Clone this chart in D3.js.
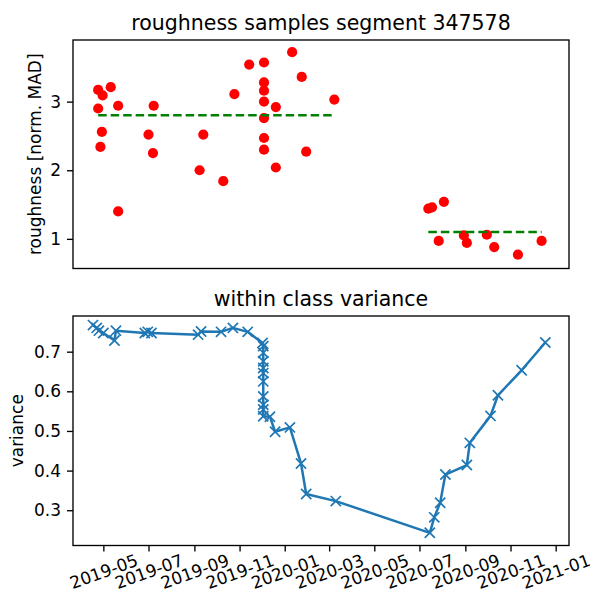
<!DOCTYPE html>
<html>
<head>
<meta charset="utf-8">
<script src="https://cdn.jsdelivr.net/npm/d3@7"></script>
<style>
  body { margin: 0; background: #fff; }
  svg { display: block; font-family: "DejaVu Sans", sans-serif; }
</style>
</head>
<body>
<svg id="chart" width="590" height="593"></svg>
<script>
// ---- data ----
const sampleDates = [
  "2019-04-24", "2019-05-11", "2019-04-30", "2019-05-21", "2019-04-24", "2019-04-29",
  "2019-04-27", "2019-05-21", "2019-07-08", "2019-07-01", "2019-07-07", "2019-09-13",
  "2019-09-08", "2019-10-10", "2019-10-25", "2019-11-14", "2019-12-04", "2019-12-04",
  "2019-12-04", "2019-12-04", "2019-12-04", "2019-12-04", "2019-12-04", "2019-12-20",
  "2019-12-20", "2020-01-11", "2020-01-24", "2020-01-30", "2020-03-08",
  "2020-07-13", "2020-07-18", "2020-08-03", "2020-07-27", "2020-08-30", "2020-09-03",
  "2020-09-30", "2020-10-10", "2020-11-11", "2020-12-13"
];
const roughness = [
  3.17, 3.21, 3.09, 2.94, 2.90, 2.56, 2.34, 1.40, 2.94, 2.52, 2.25, 2.52,
  2.00, 1.84, 3.11, 3.54, 3.57, 3.28, 3.16, 3.00, 2.76, 2.47, 2.30, 2.92,
  2.04, 3.72, 3.36, 2.27, 3.03,
  1.44, 1.46, 1.54, 0.97, 1.05, 0.94, 1.06, 0.88, 0.77, 0.97
];
const sampleClass = [
  0, 0, 0, 0, 0, 0, 0, 0, 0, 0, 0, 0, 0, 0, 0, 0, 0, 0, 0, 0, 0, 0, 0, 0, 0, 0, 0, 0, 0,
  1, 1, 1, 1, 1, 1, 1, 1, 1, 1
];
const classLevel = [2.80, 1.10];

const splitDates = [
  "2019-04-17", "2019-04-22", "2019-04-25", "2019-05-01", "2019-05-16", "2019-05-18",
  "2019-06-26", "2019-06-30", "2019-07-05", "2019-09-06", "2019-09-10", "2019-10-07",
  "2019-10-23", "2019-11-12", "2019-12-02", "2019-12-03", "2019-12-03", "2019-12-03",
  "2019-12-03", "2019-12-03", "2019-12-03", "2019-12-03", "2019-12-03", "2019-12-03",
  "2019-12-03", "2019-12-12", "2019-12-19", "2020-01-08", "2020-01-23", "2020-01-30",
  "2020-03-10", "2020-07-15", "2020-07-21", "2020-07-29", "2020-08-05", "2020-09-03",
  "2020-09-07", "2020-10-05", "2020-10-15", "2020-11-16", "2020-12-18"
];
const variance = [
  0.767, 0.760, 0.753, 0.747, 0.728, 0.753,
  0.747, 0.750, 0.747, 0.743, 0.751, 0.750,
  0.760, 0.750, 0.722, 0.714, 0.697, 0.676,
  0.659, 0.646, 0.625, 0.587, 0.566, 0.554,
  0.537, 0.536, 0.498, 0.509, 0.418, 0.341,
  0.323, 0.243, 0.282, 0.319, 0.390, 0.414,
  0.470, 0.538, 0.590, 0.653, 0.723
];

const xDomain = ["2019-03-21", "2021-01-19"];
const roughTicks = [1, 2, 3];
const varTicks = [0.3, 0.4, 0.5, 0.6, 0.7];

// ---- layout ----
const parse = d3.utcParse("%Y-%m-%d");
const left = 73, right = 569;
const top1 = 40, bot1 = 268.5;
const top2 = 316, bot2 = 545.5;
const tickFont = 17, titleFont = 20.5;
const spineW = 1.35, tickLen = 6;

const svg = d3.select("#chart");

const x = d3.scaleUtc().domain(xDomain.map(parse)).range([left, right]);
const yR = d3.scaleLinear().domain([0.568, 3.898]).range([bot1, top1]);
const yV = d3.scaleLinear().domain([0.211, 0.790]).range([bot2, top2]);

function frame(y0, y1) {
  svg.append("rect")
    .attr("x", left).attr("y", y0)
    .attr("width", right - left).attr("height", y1 - y0)
    .attr("fill", "none").attr("stroke", "#000").attr("stroke-width", spineW);
}

function yAxis(scale, ticks, fmt) {
  const g = svg.append("g")
    .attr("transform", `translate(${left},0)`)
    .call(d3.axisLeft(scale).tickValues(ticks).tickFormat(fmt).tickSize(tickLen).tickPadding(6));
  g.select(".domain").remove();
  g.selectAll("line").attr("stroke", "#000").attr("stroke-width", spineW);
  g.selectAll("text").attr("font-size", tickFont).attr("fill", "#000")
    .attr("font-family", "DejaVu Sans");
}

function title(txt, y) {
  svg.append("text")
    .attr("x", (left + right) / 2).attr("y", y)
    .attr("text-anchor", "middle")
    .attr("font-size", titleFont).attr("fill", "#000")
    .text(txt);
}

function yLabel(txt, xPos, y0, y1) {
  svg.append("text")
    .attr("transform", `translate(${xPos},${(y0 + y1) / 2}) rotate(-90)`)
    .attr("text-anchor", "middle")
    .attr("font-size", tickFont).attr("fill", "#000")
    .text(txt);
}

// ===================== TOP: roughness samples =====================

const samples = sampleDates.map((d, i) => ({ date: parse(d), value: roughness[i], cls: sampleClass[i] }));

svg.append("g")
  .selectAll("circle").data(samples).join("circle")
  .attr("cx", d => x(d.date))
  .attr("cy", d => yR(d.value))
  .attr("r", 5.1)
  .attr("fill", "#ff0000");

const levels = classLevel.map((v, c) => {
  const ext = d3.extent(samples.filter(s => s.cls === c), s => s.date);
  return { from: ext[0], to: ext[1], value: v };
});

svg.append("g")
  .selectAll("line").data(levels).join("line")
  .attr("x1", d => x(d.from)).attr("x2", d => x(d.to))
  .attr("y1", d => yR(d.value)).attr("y2", d => yR(d.value))
  .attr("stroke", "#008000").attr("stroke-width", 2.5)
  .attr("stroke-dasharray", "8.5,4");

frame(top1, bot1);
yAxis(yR, roughTicks, d3.format("d"));
title("roughness samples segment 347578", top1 - 10);
yLabel("roughness [norm. MAD]", 41, top1, bot1);

// ===================== BOTTOM: within class variance =====================

const splits = splitDates.map((d, i) => ({ date: parse(d), value: variance[i] }));
const blue = "#1f77b4";

svg.append("path")
  .datum(splits)
  .attr("fill", "none")
  .attr("stroke", blue).attr("stroke-width", 2.5)
  .attr("stroke-linejoin", "round")
  .attr("d", d3.line().x(d => x(d.date)).y(d => yV(d.value)));

const m = 5.1;
svg.append("g")
  .selectAll("path").data(splits).join("path")
  .attr("transform", d => `translate(${x(d.date)},${yV(d.value)})`)
  .attr("d", `M${-m},${-m}L${m},${m}M${-m},${m}L${m},${-m}`)
  .attr("stroke", blue).attr("stroke-width", 1.7).attr("fill", "none");

frame(top2, bot2);
yAxis(yV, varTicks, d3.format(".1f"));
title("within class variance", top2 - 10);
yLabel("variance", 23, top2, bot2);

const xg = svg.append("g")
  .attr("transform", `translate(0,${bot2})`)
  .call(d3.axisBottom(x).ticks(d3.utcMonth.every(2)).tickFormat(d3.utcFormat("%Y-%m")).tickSize(tickLen));
xg.select(".domain").remove();
xg.selectAll("line").attr("stroke", "#000").attr("stroke-width", spineW);
xg.selectAll("text")
  .attr("y", null).attr("dy", null)
  .attr("transform", "translate(0,26) rotate(-20)")
  .attr("dominant-baseline", "central")
  .attr("text-anchor", "middle")
  .attr("font-size", tickFont).attr("fill", "#000")
  .attr("font-family", "DejaVu Sans");
</script>
</body>
</html>
